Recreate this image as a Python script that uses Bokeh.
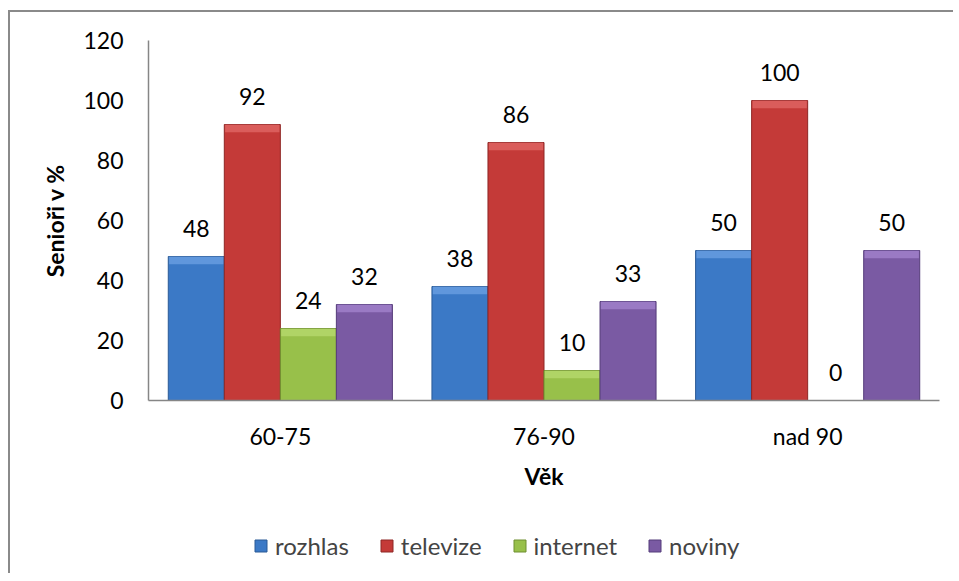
from bokeh.plotting import figure
from bokeh.layouts import column
from bokeh.models import ColumnDataSource, FactorRange, Range1d, FixedTicker, Legend, LegendItem
from bokeh.transform import dodge
from bokeh.core.properties import value
from bokeh.embed import file_html
from bokeh.resources import INLINE

# ---- data ----
categories = ["60-75", "76-90", "nad 90"]
series_names = ["rozhlas", "televize", "internet", "noviny"]
rozhlas = [48, 38, 50]
televize = [92, 86, 100]
internet = [24, 10, 0]
noviny = [32, 33, 50]
y_ticks = [0, 20, 40, 60, 80, 100, 120]
y_title = "Senioři v %"
x_title = "Věk"

series_values = [rozhlas, televize, internet, noviny]
fills = ["#3b79c6", "#c43a38", "#98c04a", "#7a5aa3"]
edges = ["#2a5a96", "#8e2624", "#6e8f30", "#553c7a"]
lights = ["#7fb0ee", "#ec7a78", "#c4e47e", "#b596e0"]

FONT = value("Lato")
FS = "23px"
W = 0.2125
offsets = [-1.5 * W, -0.5 * W, 0.5 * W, 1.5 * W]

p = figure(x_range=FactorRange(*categories), y_range=Range1d(0, 120),
           width=943, height=493, output_backend="svg", toolbar_location=None,
           min_border_left=138, min_border_right=14, min_border_top=28,
           min_border_bottom=105)
p.outline_line_color = None
p.xgrid.grid_line_color = None
p.ygrid.grid_line_color = None
p.background_fill_color = "white"
p.border_fill_color = "white"

# legend strip (shares the same categorical x range; y range lies above the data so bars stay hidden)
lg = figure(x_range=p.x_range, y_range=Range1d(1000, 1001), width=943, height=68,
            output_backend="svg", toolbar_location=None,
            x_axis_location=None, y_axis_location=None,
            min_border_left=0, min_border_right=0, min_border_top=0, min_border_bottom=0)
lg.outline_line_color = None
lg.xgrid.grid_line_color = None
lg.ygrid.grid_line_color = None

legend_renderers = []
for name, vals, off, fc, ec, lc in zip(series_names, series_values, offsets, fills, edges, lights):
    band_bottom = [max(v - 2.6, 0) for v in vals]
    src = ColumnDataSource(dict(cat=categories, v=vals, vb=band_bottom,
                                lab=[str(v) for v in vals]))
    xs = dodge("cat", off, range=p.x_range)
    p.vbar(x=xs, top="v", bottom=0, width=W, source=src,
           fill_color=fc, line_color=ec, line_width=1)
    p.vbar(x=xs, top="v", bottom="vb", width=W * 0.97, source=src,
           fill_color=lc, fill_alpha=0.55, line_color=None)
    p.text(x=xs, y="v", text="lab", source=src, y_offset=-28,
           text_align="center", text_baseline="alphabetic",
           text_font=FONT, text_font_size=FS, text_color="black")
    legend_renderers.append(lg.vbar(x=xs, top="v", bottom=0, width=W, source=src,
                                    fill_color=fc, line_color=ec, line_width=1))

# axes
for ax in (p.xaxis[0], p.yaxis[0]):
    ax.axis_line_color = "#868686"
    ax.axis_line_width = 1.5
    ax.major_tick_line_color = None
    ax.minor_tick_line_color = None
    ax.major_label_text_font = "Lato"
    ax.major_label_text_font_size = FS
    ax.major_label_text_color = "black"
    ax.axis_label_text_font = "Lato"
    ax.axis_label_text_font_size = FS
    ax.axis_label_text_font_style = "bold"
    ax.axis_label_text_color = "black"

p.yaxis.ticker = FixedTicker(ticks=y_ticks)
p.yaxis.major_label_standoff = 19
p.yaxis.axis_label = y_title
p.yaxis.axis_label_standoff = 11
p.xaxis.major_label_standoff = 15
p.xaxis.axis_label = x_title
p.xaxis.axis_label_standoff = 9

legend = Legend(items=[LegendItem(label=n, renderers=[r]) for n, r in zip(series_names, legend_renderers)],
                orientation="horizontal", location=(105, 13),
                border_line_color=None, background_fill_alpha=0,
                label_text_font="Lato", label_text_font_size="24px",
                glyph_width=15, glyph_height=15, label_standoff=7,
                spacing=30, padding=0, margin=0)
lg.add_layout(legend)

layout = column(p, lg, spacing=0)
layout.styles = {"border-top": "2px solid #8a8a8a", "border-left": "2px solid #8a8a8a",
                 "margin-top": "10px", "margin-left": "8px"}

open("out.html", "w").write(file_html(layout, INLINE))
